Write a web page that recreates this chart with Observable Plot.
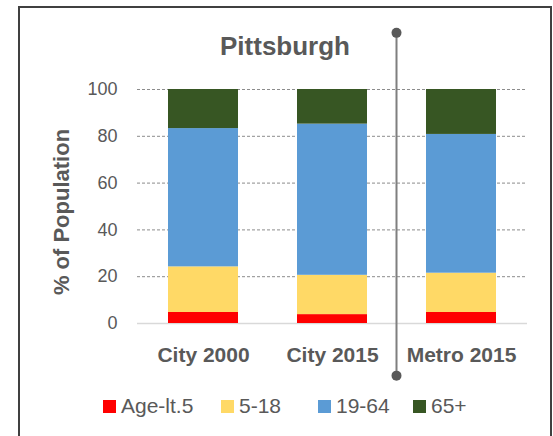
<!DOCTYPE html>
<html>
<head>
<meta charset="utf-8">
<script src="https://cdn.jsdelivr.net/npm/d3@7"></script>
<script src="https://cdn.jsdelivr.net/npm/@observablehq/plot@0.6"></script>
<style>
  html, body { margin: 0; padding: 0; background: #fff; overflow: hidden; }
  #wrap { position: relative; width: 553px; height: 436px; font-family: "Liberation Sans", Arial, sans-serif; color: #595959; }
  #frame { position: absolute; left: 18px; top: 6px; width: 530px; height: 450px; border: 2px solid #404040; box-sizing: content-box; }
  #title { position: absolute; left: 19px; width: 532px; top: 33px; text-align: center; font-weight: bold; font-size: 26px; line-height: 26px; }
  #ylabel { position: absolute; left: 62px; top: 212px; transform: translate(-50%, -50%) rotate(-90deg); font-weight: bold; font-size: 22px; white-space: nowrap; line-height: 22px; }
  #chart { position: absolute; left: 0; top: 0; }
  #legend { position: absolute; left: 103px; top: 394px; display: flex; font-size: 21px; line-height: 24px; }
  .item { display: flex; align-items: center; }
  .sw { width: 13px; height: 13px; margin-right: 5px; }
  .item:nth-child(1) { width: 118px; }
  .item:nth-child(2) { width: 97px; }
  .item:nth-child(3) { width: 95px; }
</style>
</head>
<body>
<div id="wrap">
  <div id="frame"></div>
  <div id="chart"></div>
  <div id="title"></div>
  <div id="ylabel"></div>
  <div id="legend"></div>
</div>
<script>
const titleText = "Pittsburgh";
const yLabel = "% of Population";
const categories = ["City 2000", "City 2015", "Metro 2015"];
const ageGroups = ["Age-lt.5", "5-18", "19-64", "65+"];
const ageLt5 = [4.7, 3.8, 4.7];
const age5to18 = [19.5, 16.8, 16.8];
const age19to64 = [59.1, 64.6, 59.3];
const age65plus = [16.7, 14.8, 19.2];
const yTicks = [0, 20, 40, 60, 80, 100];
const colors = ["#ff0000", "#ffd966", "#5b9bd5", "#375623"];
// separator annotation (between City 2015 and Metro 2015), extent in y units
const sepAfter = "City 2015", sepBefore = "Metro 2015";
const sepTop = 124, sepBottom = -22.5;

const series = [ageLt5, age5to18, age19to64, age65plus];
const data = [];
categories.forEach((c, i) => ageGroups.forEach((g, j) => data.push({category: c, age: g, value: series[j][i]})));

document.getElementById("title").textContent = titleText;
document.getElementById("ylabel").textContent = yLabel;

const chart = Plot.plot({
  width: 553,
  height: 436,
  marginLeft: 137,
  marginRight: 26,
  marginTop: 89,
  marginBottom: 113,
  style: {fontFamily: '"Liberation Sans", Arial, sans-serif', color: "#595959", background: "transparent"},
  x: {domain: categories, paddingInner: 0.46, paddingOuter: 0.235, label: null},
  y: {domain: [0, 100], label: null},
  color: {domain: ageGroups, range: colors},
  marks: [
    Plot.ruleY(yTicks.filter(d => d > 0), {stroke: "#8c8c8c", strokeDasharray: "3,2", strokeWidth: 1}),
    Plot.ruleY([0], {stroke: "#d9d9d9", strokeWidth: 1.5}),
    Plot.barY(data, {x: "category", y: "value", fill: "age", order: ageGroups}),
    Plot.axisY({ticks: yTicks, tickSize: 0, tickPadding: 20, fontSize: 18, fill: "#595959", label: null}),
    Plot.axisX({tickSize: 0, tickPadding: 24, fontSize: 21, fontWeight: "bold", fill: "#595959", label: null})
  ]
});
document.getElementById("chart").appendChild(chart);

// separator line with end dots
const xs = chart.scale("x"), ys = chart.scale("y");
const sx = (xs.apply(sepAfter) + xs.bandwidth + xs.apply(sepBefore)) / 2;
const svg = d3.select(chart);
const g = svg.append("g");
g.append("line").attr("x1", sx).attr("x2", sx).attr("y1", ys.apply(sepTop)).attr("y2", ys.apply(sepBottom))
  .attr("stroke", "#7f7f7f").attr("stroke-width", 2);
g.selectAll("circle").data([sepTop, sepBottom]).join("circle")
  .attr("cx", sx).attr("cy", d => ys.apply(d)).attr("r", 5).attr("fill", "#595959");

// legend
const leg = d3.select("#legend");
ageGroups.forEach((a, i) => {
  const it = leg.append("div").attr("class", "item");
  it.append("div").attr("class", "sw").style("background", colors[i]);
  it.append("span").text(a);
});
</script>
</body>
</html>
